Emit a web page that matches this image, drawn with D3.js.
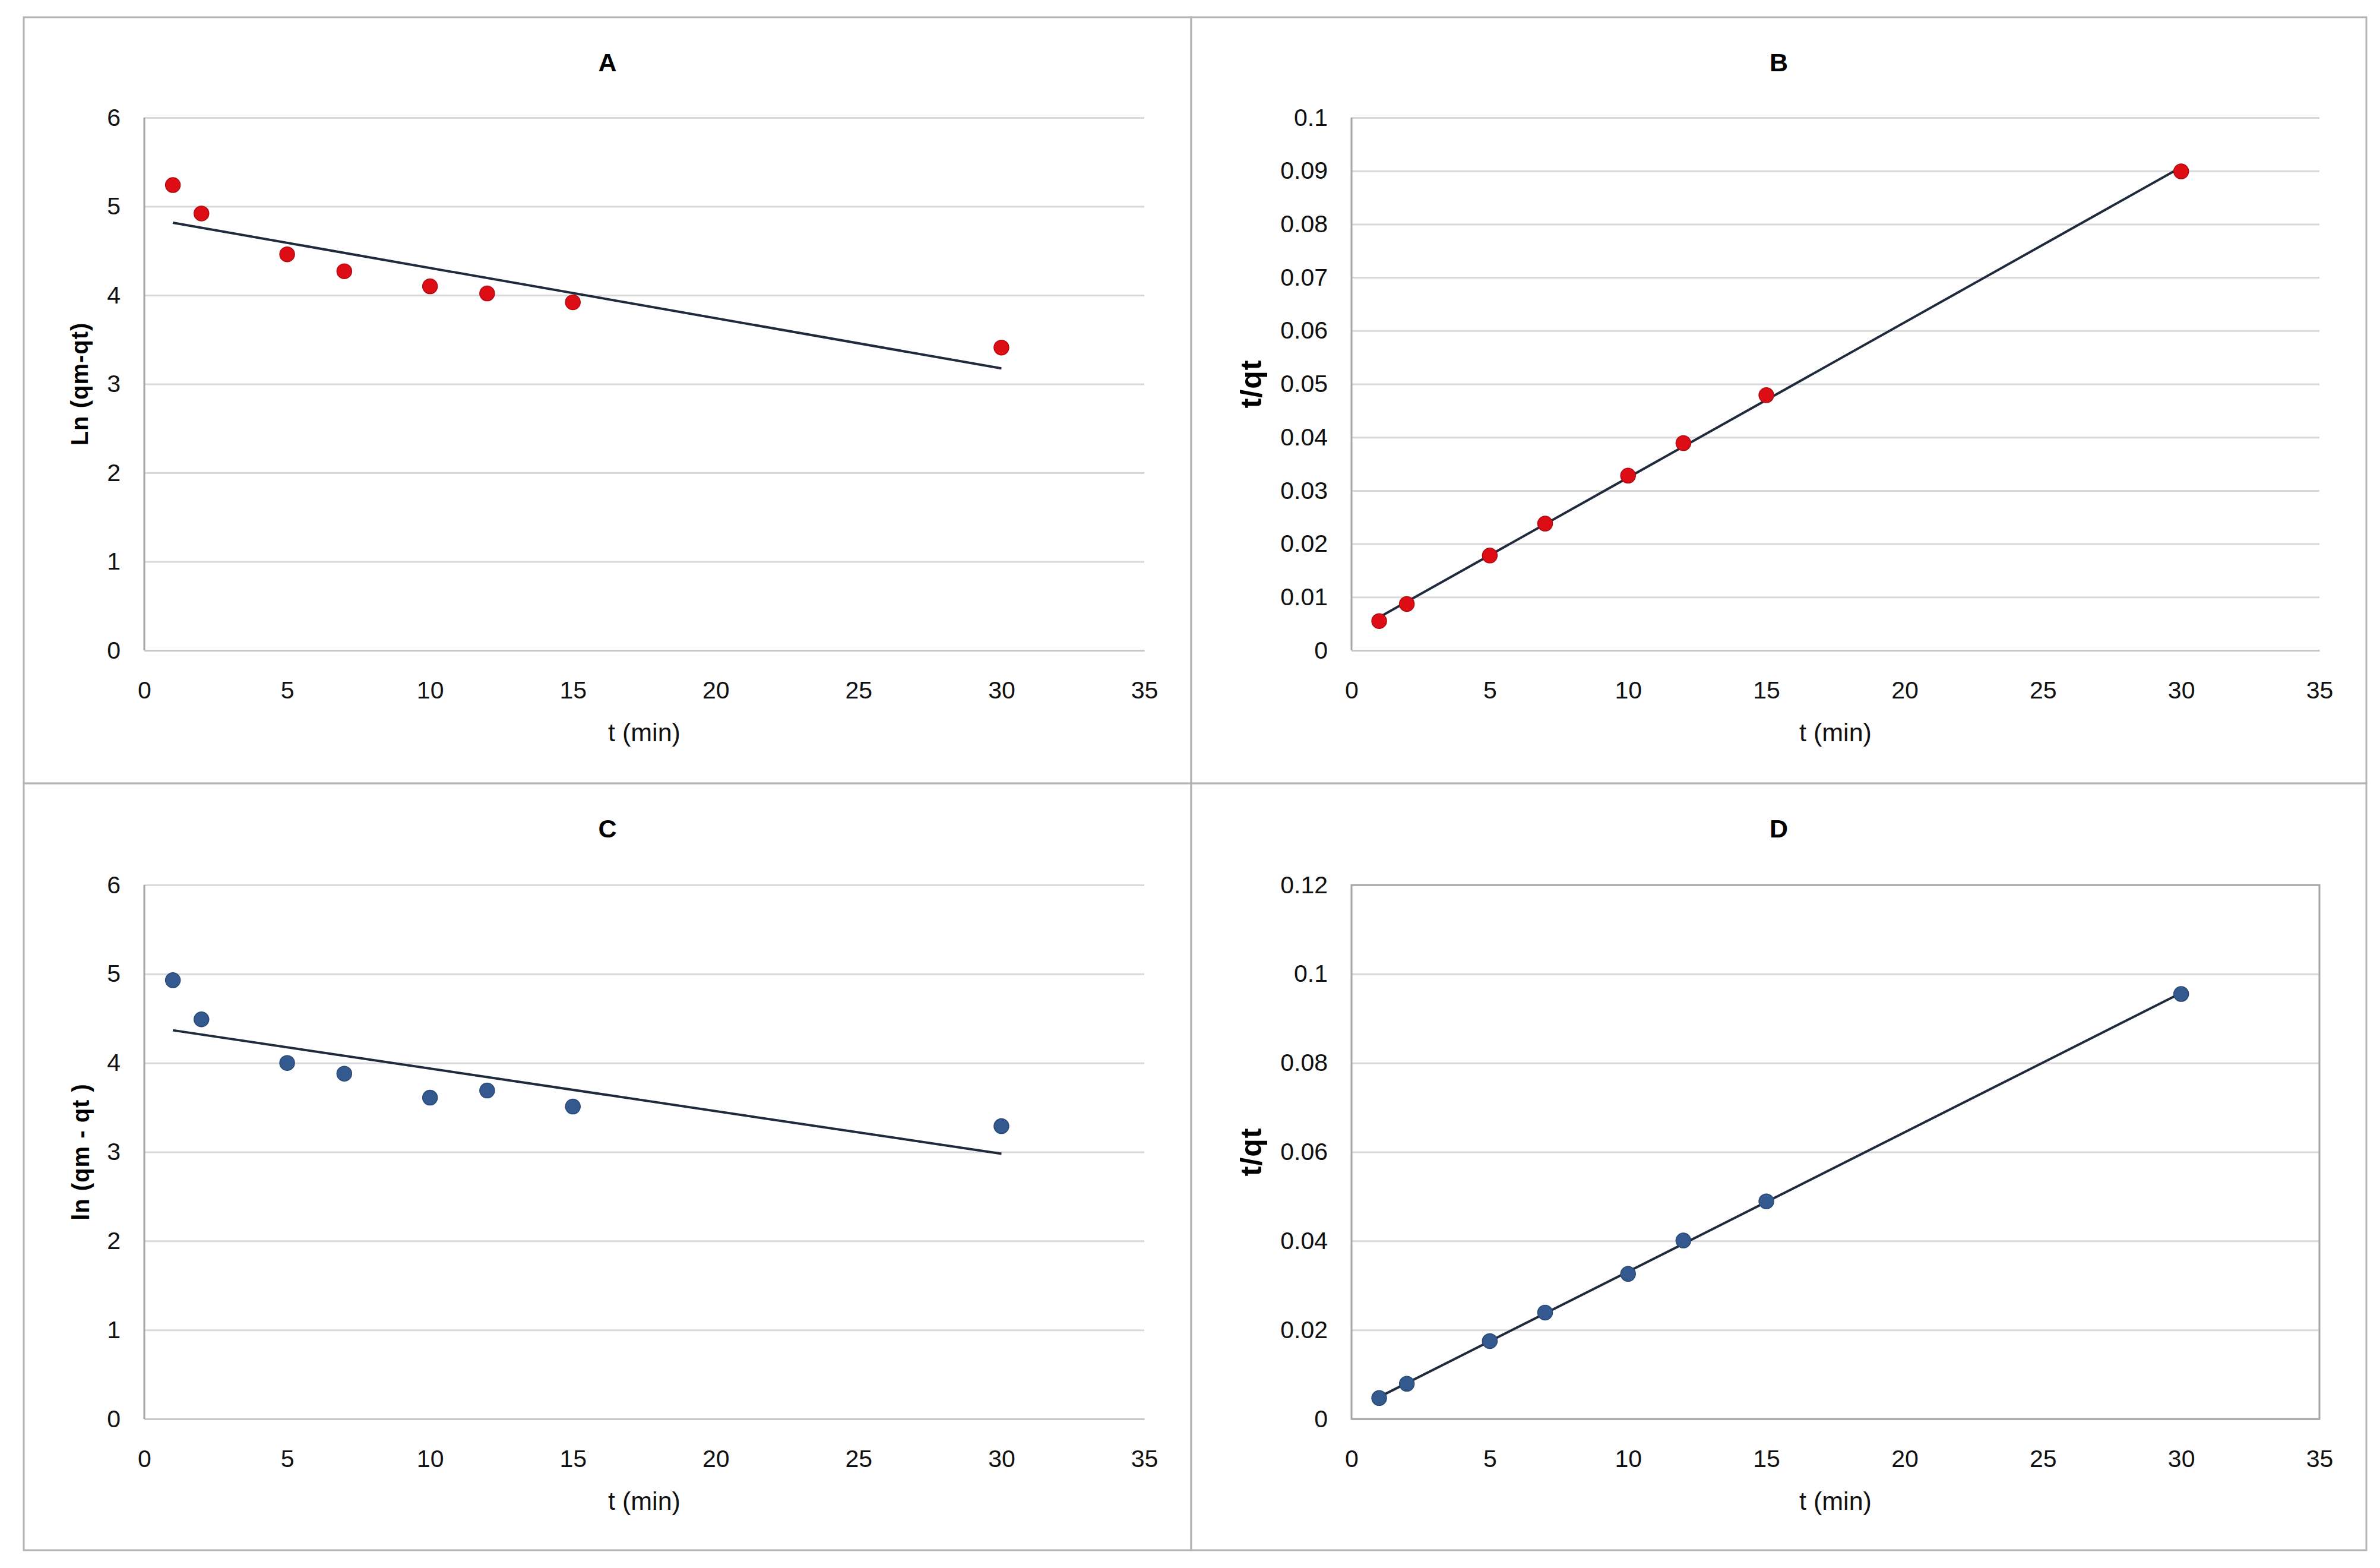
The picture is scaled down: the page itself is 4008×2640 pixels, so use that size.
<!DOCTYPE html>
<html>
<head>
<meta charset="utf-8">
<script src="https://cdn.jsdelivr.net/npm/d3@7"></script>
<style>
  body { margin: 0; background: white; }
</style>
</head>
<body>
<script>
// data
const times = [1, 2, 5, 7, 10, 12, 15, 30];
const lnA = [5.24, 4.92, 4.46, 4.27, 4.10, 4.02, 3.92, 3.41];
const tqB = [0.0055, 0.0087, 0.0178, 0.0238, 0.0328, 0.0389, 0.0479, 0.0899];
const lnC = [4.93, 4.49, 4.00, 3.88, 3.61, 3.69, 3.51, 3.29];
const tqD = [0.0047, 0.0079, 0.0175, 0.0239, 0.0326, 0.0401, 0.0489, 0.0955];

const xTicks = [0, 5, 10, 15, 20, 25, 30, 35];
const yTicksA = [0, 1, 2, 3, 4, 5, 6];
const yTicksB = [0, 0.01, 0.02, 0.03, 0.04, 0.05, 0.06, 0.07, 0.08, 0.09, 0.1];
const yTicksD = [0, 0.02, 0.04, 0.06, 0.08, 0.1, 0.12];

const panelTitles = ["A", "B", "C", "D"];
const yLabels = ["Ln (qm-qt)", "t/qt", "ln (qm - qt )", "t/qt"];
const xLabel = "t (min)";

const red = "#dc0d15";
const blue = "#34598f";

let width = 4008,
    height = 2640;

let svg = d3.select("body")
            .append("svg")
            .attr("width", width)
            .attr("height", height)
            .style("background", "white");

const tickFont = "'Liberation Sans', Arial, sans-serif";
const boldFont = "'Liberation Sans', Arial, sans-serif";

// simple least squares line, like Excel's linear trendline
function fitLine(xs, ys) {
    const mx = d3.mean(xs), my = d3.mean(ys);
    let sxy = 0, sxx = 0;
    xs.forEach((x, i) => { sxy += (x - mx) * (ys[i] - my); sxx += (x - mx) * (x - mx); });
    const slope = sxy / sxx;
    return {slope: slope, intercept: my - slope * mx};
}

function drawPanel(opts) {
    // outer chart box
    svg.append("rect")
        .attr("x", opts.box[0])
        .attr("y", opts.box[1])
        .attr("width", opts.box[2] - opts.box[0])
        .attr("height", opts.box[3] - opts.box[1])
        .attr("fill", "white")
        .attr("stroke", "#b4b4b4")
        .attr("stroke-width", 3);

    let xScale = d3.scaleLinear()
        .domain([0, 35])
        .range([opts.plot.left, opts.plot.right]);
    let yScale = d3.scaleLinear()
        .domain([0, d3.max(opts.yTicks)])
        .range([opts.plot.bottom, opts.plot.top]);

    // gridlines
    let yAxis = svg.append("g")
        .attr("transform", `translate(${opts.plot.left},0)`)
        .call(d3.axisLeft(yScale)
            .tickValues(opts.yTicks)
            .tickSize(-(opts.plot.right - opts.plot.left))
            .tickPadding(40)
            .tickFormat(d => String(+d.toFixed(4))));
    yAxis.select(".domain").remove();
    yAxis.selectAll(".tick line").attr("stroke", "#d9d9d9").attr("stroke-width", 3);
    yAxis.selectAll(".tick text")
        .style("font-family", tickFont)
        .style("font-size", "41px")
        .attr("fill", "#111");

    let xAxis = svg.append("g")
        .attr("transform", `translate(0,${opts.plot.bottom})`)
        .call(d3.axisBottom(xScale).tickValues(xTicks).tickSize(0).tickPadding(52));
    xAxis.select(".domain").attr("stroke", "#c8c8c8").attr("stroke-width", 3);
    xAxis.selectAll(".tick text")
        .style("font-family", tickFont)
        .style("font-size", "41px")
        .attr("fill", "#111");

    // left axis line (or the full frame on panel D)
    if (opts.frame) {
        svg.append("rect")
            .attr("x", opts.plot.left)
            .attr("y", opts.plot.top)
            .attr("width", opts.plot.right - opts.plot.left)
            .attr("height", opts.plot.bottom - opts.plot.top)
            .attr("fill", "none")
            .attr("stroke", "#a6a6a6")
            .attr("stroke-width", 3);
    } else {
        svg.append("line")
            .attr("x1", opts.plot.left).attr("x2", opts.plot.left)
            .attr("y1", opts.plot.top).attr("y2", opts.plot.bottom)
            .attr("stroke", "#a6a6a6")
            .attr("stroke-width", 3);
    }

    // trendline
    const fit = fitLine(times, opts.values);
    const ends = [d3.min(times), d3.max(times)];
    svg.append("line")
        .attr("x1", xScale(ends[0]))
        .attr("y1", yScale(fit.intercept + fit.slope * ends[0]))
        .attr("x2", xScale(ends[1]))
        .attr("y2", yScale(fit.intercept + fit.slope * ends[1]))
        .attr("stroke", "#1f2b3d")
        .attr("stroke-width", 4);

    // points
    svg.append("g").selectAll("circle")
        .data(times.map((t, i) => ({t: t, v: opts.values[i]})))
        .enter()
        .append("circle")
        .attr("cx", d => xScale(d.t))
        .attr("cy", d => yScale(d.v))
        .attr("r", 12.5)
        .style("fill", opts.color)
        .style("stroke", d3.color(opts.color).darker(0.6))
        .style("stroke-width", 1.5);

    // title
    svg.append("text")
        .attr("x", (opts.box[0] + opts.box[2]) / 2)
        .attr("y", opts.box[1] + 76)
        .attr("dy", "0.35em")
        .style("text-anchor", "middle")
        .style("font-family", boldFont)
        .style("font-weight", "bold")
        .style("font-size", "43px")
        .text(opts.title);

    // x label
    svg.append("text")
        .attr("x", (opts.plot.left + opts.plot.right) / 2)
        .attr("y", opts.plot.bottom + 138)
        .attr("dy", "0.35em")
        .style("text-anchor", "middle")
        .style("font-family", tickFont)
        .style("font-size", "43px")
        .attr("fill", "#111")
        .text(xLabel);

    // y label
    svg.append("text")
        .attr("transform", `translate(${opts.yLabelX},${(opts.plot.top + opts.plot.bottom) / 2}) rotate(-90)`)
        .attr("dy", "0.35em")
        .style("text-anchor", "middle")
        .style("font-family", boldFont)
        .style("font-weight", "bold")
        .style("font-size", opts.yLabelSize)
        .style("letter-spacing", "1px")
        .text(opts.yLabel);
}

drawPanel({
    box: [40, 29, 2006, 1319],
    plot: {left: 243, right: 1927, top: 198, bottom: 1095},
    yTicks: yTicksA, values: lnA, color: red,
    title: panelTitles[0], yLabel: yLabels[0], yLabelX: 134, yLabelSize: "40px"
});
drawPanel({
    box: [2006, 29, 3985, 1319],
    plot: {left: 2276, right: 3906, top: 198, bottom: 1095},
    yTicks: yTicksB, values: tqB, color: red,
    title: panelTitles[1], yLabel: yLabels[1], yLabelX: 2106, yLabelSize: "50px"
});
drawPanel({
    box: [40, 1319, 2006, 2610],
    plot: {left: 243, right: 1927, top: 1490, bottom: 2389},
    yTicks: yTicksA, values: lnC, color: blue,
    title: panelTitles[2], yLabel: yLabels[2], yLabelX: 136, yLabelSize: "40px"
});
drawPanel({
    box: [2006, 1319, 3985, 2610],
    plot: {left: 2276, right: 3906, top: 1490, bottom: 2389},
    yTicks: yTicksD, values: tqD, color: blue, frame: true,
    title: panelTitles[3], yLabel: yLabels[3], yLabelX: 2106, yLabelSize: "50px"
});
</script>
</body>
</html>
